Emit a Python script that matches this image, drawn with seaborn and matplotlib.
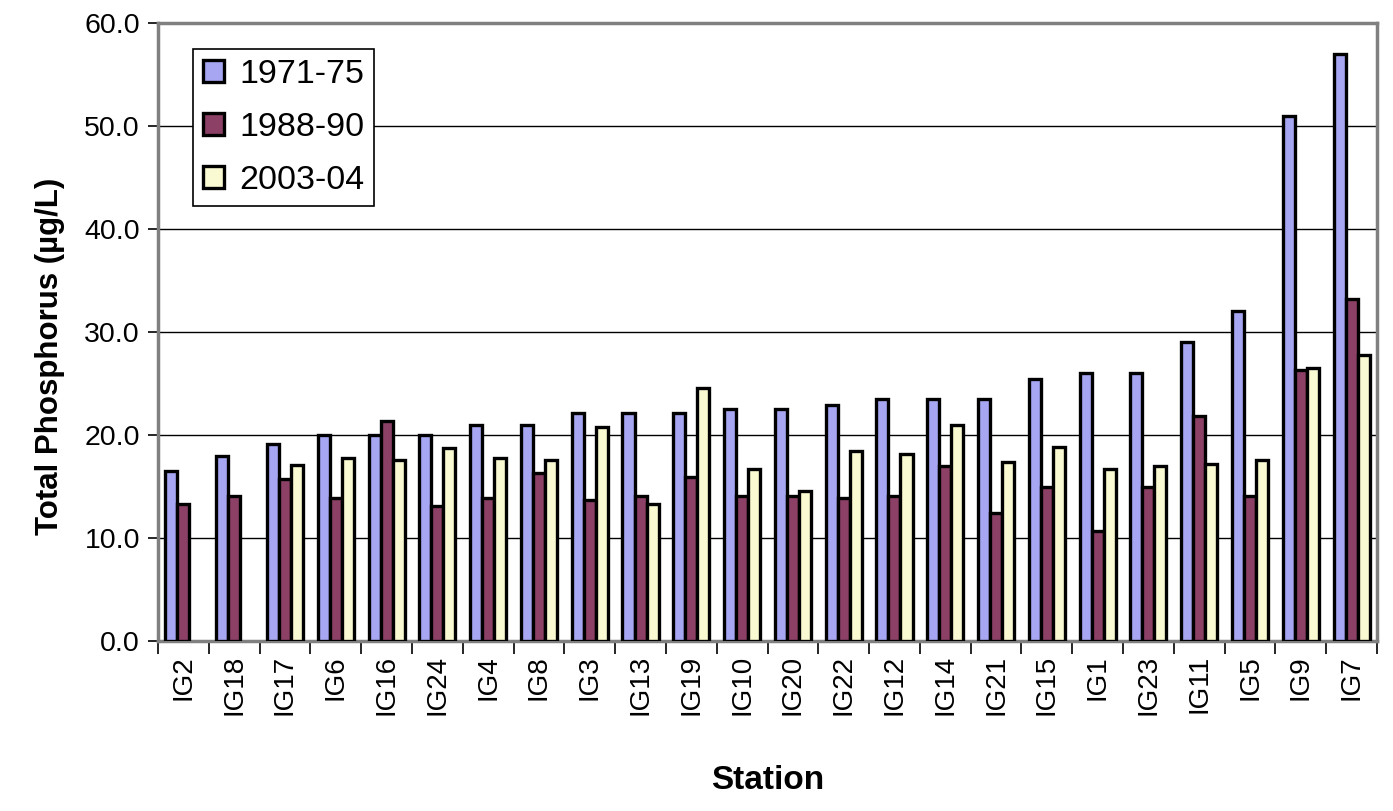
import numpy as np
import pandas as pd
import matplotlib
matplotlib.use('Agg')
import matplotlib.pyplot as plt
from matplotlib.ticker import FixedLocator, FormatStrFormatter
import seaborn as sns

# station order as in the chart (sorted by 1971-75 value)
stations = ['IG2', 'IG18', 'IG17', 'IG6', 'IG16', 'IG24', 'IG4', 'IG8', 'IG3', 'IG13',
            'IG19', 'IG10', 'IG20', 'IG22', 'IG12', 'IG14', 'IG21', 'IG15', 'IG1', 'IG23',
            'IG11', 'IG5', 'IG9', 'IG7']
periods = ['1971-75', '1988-90', '2003-04']

tp_1971 = [16.5, 18.0, 19.1, 20.0, 20.0, 20.0, 21.0, 21.0, 22.1, 22.1,
           22.1, 22.5, 22.5, 22.9, 23.5, 23.5, 23.5, 25.4, 26.0, 26.0,
           29.0, 32.0, 51.0, 57.0]
tp_1988 = [13.3, 14.1, 15.7, 13.9, 21.4, 13.1, 13.9, 16.3, 13.7, 14.1,
           15.9, 14.1, 14.1, 13.9, 14.1, 17.0, 12.4, 15.0, 10.7, 15.0,
           21.8, 14.1, 26.3, 33.2]
tp_2003 = [np.nan, np.nan, 17.1, 17.8, 17.6, 18.7, 17.8, 17.6, 20.8, 13.3,
           24.6, 16.7, 14.6, 18.4, 18.2, 21.0, 17.4, 18.8, 16.7, 17.0,
           17.2, 17.6, 26.5, 27.8]

colors = ['#9999FF', '#993366', '#FFFFCC']


def build_frame():
    """Long-form table for seaborn."""
    rows = []
    for period, vals in zip(periods, [tp_1971, tp_1988, tp_2003]):
        for st, v in zip(stations, vals):
            rows.append({'Station': st, 'Period': period, 'TP': v})
    return pd.DataFrame(rows)


def main():
    sns.set_style('white')
    plt.rcParams['font.family'] = ['Liberation Sans', 'DejaVu Sans']
    plt.rcParams['text.color'] = 'black'
    plt.rcParams['axes.labelcolor'] = 'black'
    plt.rcParams['xtick.color'] = 'black'
    plt.rcParams['ytick.color'] = 'black'

    df = build_frame()
    fig = plt.figure(figsize=(13.93, 8.11), dpi=100)
    ax = fig.add_axes([158 / 1393, 1 - 641 / 811, (1377 - 158) / 1393, (641 - 23) / 811])

    sns.barplot(data=df, x='Station', y='TP', hue='Period', order=stations,
                hue_order=periods, palette=colors, edgecolor='black',
                linewidth=2.4, width=0.71, gap=0, errorbar=None, ax=ax, zorder=3)

    ax.set_ylim(0, 60)
    ax.set_xlim(-0.5, len(stations) - 0.5)
    ax.set_yticks(np.arange(0, 61, 10))
    ax.yaxis.set_major_formatter(FormatStrFormatter('%.1f'))
    ax.yaxis.grid(True, color='black', linewidth=1.0, zorder=0)
    ax.set_axisbelow(True)

    # category separators as tick marks
    ax.xaxis.set_minor_locator(FixedLocator(np.arange(-0.5, len(stations), 1.0)))
    ax.tick_params(axis='x', which='major', length=0, labelsize=20, rotation=90, pad=10)
    ax.tick_params(axis='x', which='minor', length=9, width=1.2, color='black',
                   direction='out', bottom=True)
    ax.tick_params(axis='y', which='major', length=7, width=1.2, color='black',
                   direction='out', left=True, labelsize=20.5, pad=6)

    for side in ['left', 'top', 'right', 'bottom']:
        ax.spines[side].set_visible(True)
        ax.spines[side].set_color('#808080')
        ax.spines[side].set_linewidth(2.5)

    ax.set_xlabel('Station', fontsize=24, fontweight='bold', va='top')
    ax.xaxis.set_label_coords(0.5, -0.2)
    ax.set_ylabel('Total Phosphorus (µg/L)', fontsize=22.5, fontweight='bold')
    ax.yaxis.set_label_coords(-0.0765, 0.46)

    handles, labels = ax.get_legend_handles_labels()
    leg = ax.legend(handles, labels, loc='upper left',
                    bbox_to_anchor=(193 / 1393, 1 - 49 / 811),
                    bbox_transform=fig.transFigure, borderaxespad=0,
                    fontsize=24.5, frameon=True, fancybox=False, shadow=False,
                    handlelength=0.6, handleheight=0.6, handletextpad=0.45,
                    labelspacing=0.64, borderpad=0.3)
    leg.get_frame().set_edgecolor('black')
    leg.get_frame().set_linewidth(1.2)
    leg.get_frame().set_alpha(1.0)

    fig.savefig('out.png', dpi=100)


if __name__ == '__main__':
    main()
